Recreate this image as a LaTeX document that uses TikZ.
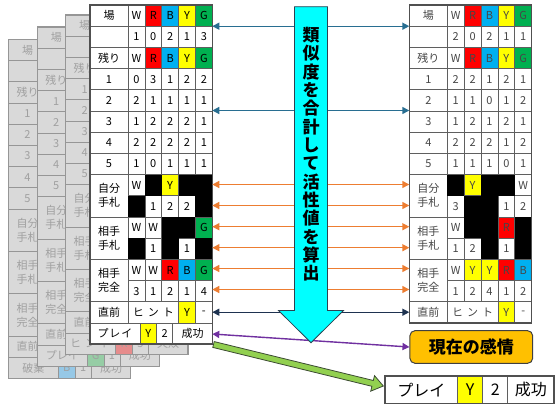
\documentclass[tikz,border=0pt]{standalone}
\usepackage{fontspec}
\setmainfont{Noto Sans CJK JP}
\usetikzlibrary{arrows.meta,calc}

\definecolor{cR}{RGB}{255,0,0}
\definecolor{cB}{RGB}{0,176,240}
\definecolor{cY}{RGB}{255,255,0}
\definecolor{cG}{RGB}{0,176,80}
\definecolor{gridc}{RGB}{95,95,95}
\definecolor{framec}{RGB}{80,80,80}
\definecolor{rtext}{RGB}{70,70,70}
\definecolor{bgfill}{RGB}{217,217,217}
\definecolor{bgline}{RGB}{150,150,150}
\definecolor{bgtext}{RGB}{160,160,160}
\definecolor{lR}{RGB}{230,140,140}
\definecolor{lB}{RGB}{150,200,230}
\definecolor{lG}{RGB}{150,205,165}
\definecolor{arrBlue}{RGB}{40,110,145}
\definecolor{arrOrange}{RGB}{237,125,49}
\definecolor{arrNavy}{RGB}{30,50,80}
\definecolor{arrPurple}{RGB}{112,48,160}
\definecolor{cyanf}{RGB}{0,255,255}
\definecolor{cyand}{RGB}{45,65,80}
\definecolor{lgreen}{RGB}{146,208,80}
\definecolor{lgreend}{RGB}{60,75,50}
\definecolor{emof}{RGB}{255,192,0}

\def\rh{21.2}
\def\cw{16.86}
\def\lw{38}
\def\tcol{black}
\def\gcol{gridc}
\def\dfill{white}
\newif\ifblackpass
\def\codeX{X}
\def\cfR{cR}\def\cfB{cB}\def\cfY{cY}\def\cfG{cG}

\tikzset{
  cell/.style={draw=\gcol, line width=0.7pt, text=\tcol, anchor=north west,
    minimum width=\cw pt, minimum height=\rh pt, inner sep=0pt, outer sep=0pt,
    font=\fontsize{11}{14}\selectfont, align=center},
  tframe/.style={draw=framec, line width=1.5pt},
  gframe/.style={draw=bgline, line width=1.2pt},
  link/.style={line width=1.4pt, {Triangle[length=7pt,width=7pt]}-{Triangle[length=7pt,width=7pt]}},
  bcell/.style={cell, minimum height=27.3pt, font=\fontsize{16}{18}\selectfont, fill=white},
  emobox/.style={rounded corners=5pt, fill=emof, draw=black!75, line width=1pt,
    minimum width=122.7pt, minimum height=32.6pt, inner sep=0pt,
    font=\fontsize{17}{20}\selectfont\bfseries},
}

\newcommand\drawcell[5]{%
  \pgfmathsetmacro\cx{#2+(#4-1)*\cw}%
  \pgfmathsetmacro\cy{\ytop+#3*\rh}%
  \edef\code{#5}%
  \ifx\code\codeX
    \ifblackpass\fill[black] (\cx,\cy) rectangle ++(\cw,\rh);\fi
  \else
    \ifblackpass\else
      \ifcsname cf\code\endcsname\edef\thefill{\csname cf\code\endcsname}\else\edef\thefill{\dfill}\fi
      \node[cell, fill=\thefill] (#1-#3-#4) at (\cx,\cy) {\code};
    \fi
  \fi}
\newcommand\vrow[4]{\foreach \cc [count=\ii] in {#4}{\drawcell{#1}{#2}{#3}{\ii}{\cc}}}

\newcommand\labcell[6]{%
  \pgfmathsetmacro\cy{\ytop+#3*\rh}%
  \pgfmathsetmacro\hh{#4*\rh}%
  \node[cell, fill=\dfill, minimum width=#5 pt, minimum height=\hh pt] (#1) at (#2,\cy) {#6};}

\newcommand\labelcol[2]{%
  \labcell{#1-l0}{#2}{0}{1}{\lw}{場}%
  \labcell{#1-l1}{#2}{1}{1}{\lw}{}%
  \labcell{#1-l2}{#2}{2}{1}{\lw}{残り}%
  \labcell{#1-l3}{#2}{3}{1}{\lw}{1}%
  \labcell{#1-l4}{#2}{4}{1}{\lw}{2}%
  \labcell{#1-l5}{#2}{5}{1}{\lw}{3}%
  \labcell{#1-l6}{#2}{6}{1}{\lw}{4}%
  \labcell{#1-l7}{#2}{7}{1}{\lw}{5}%
  \labcell{#1-l8}{#2}{8}{2}{\lw}{自分\\手札}%
  \labcell{#1-l10}{#2}{10}{2}{\lw}{相手\\手札}%
  \labcell{#1-l12}{#2}{12}{2}{\lw}{相手\\完全}%
  \labcell{#1-l14}{#2}{14}{1}{\lw}{直前}}

\newcommand\actrow[7]{%
  \labcell{#1-a1}{#2}{15}{1}{50}{#3}%
  \node[cell, fill=#4, minimum width=16.7pt] (#1-a2) at (#2+50,\ytop+15*\rh) {#5};
  \node[cell, fill=\dfill, minimum width=16pt] (#1-a3) at (#2+66.7,\ytop+15*\rh) {#6};
  \node[cell, fill=\dfill, minimum width=39.6pt] (#1-a4) at (#2+82.7,\ytop+15*\rh) {#7};}

\newcommand\hintrow[2]{%
  \labcell{#1-h1}{#2}{14}{1}{50.58}{ヒ\hspace{4pt}ン\hspace{4pt}ト}%
  \node[cell, fill=cY] (#1-h2) at (#2+50.58,\ytop+14*\rh) {Y};
  \node[cell, fill=\dfill] (#1-h3) at (#2+67.44,\ytop+14*\rh) {-};}

\newcommand\graytable[8]{%
  \begingroup
  \def\ytop{#3}\def\tcol{bgtext}\def\gcol{bgline}\def\dfill{bgfill}%
  \fill[bgfill] (#2,#3) rectangle ++(122.3,16*\rh);
  \labelcol{#1}{#2}%
  \actrow{#1}{#2}{#4}{#5}{#6}{#7}{#8}%
  \draw[gframe] (#2,#3) rectangle ++(122.3,16*\rh);
  \endgroup}

\begin{document}
\begin{tikzpicture}[x=1pt,y=-1pt]
\useasboundingbox (0,0) rectangle (560,405);
\fill[white] (0,0) rectangle (560,405);

% stacked gray tables (past states)
\graytable{A}{8.5}{39.3}{破棄}{lB}{B}{1}{成功}
\graytable{B}{37.3}{27}{プレイ}{lG}{G}{1}{成功}
\graytable{C}{65.7}{15}{ヒ\hspace{4pt}ン\hspace{4pt}ト}{lR}{R}{5}{失敗}

% main left table
\begingroup
\def\ytop{5}
\fill[white] (90,5) rectangle ++(122.3,16*\rh);
\labelcol{L}{90}
\vrow{L}{128}{0}{W,R,B,Y,G}
\vrow{L}{128}{1}{1,0,2,1,3}
\vrow{L}{128}{2}{W,R,B,Y,G}
\vrow{L}{128}{3}{0,3,1,2,2}
\vrow{L}{128}{4}{2,1,1,1,1}
\vrow{L}{128}{5}{1,2,2,2,1}
\vrow{L}{128}{6}{2,2,2,2,1}
\vrow{L}{128}{7}{1,0,1,1,1}
\vrow{L}{128}{8}{W,X,Y,X,X}
\vrow{L}{128}{9}{X,1,2,2,X}
\vrow{L}{128}{10}{W,W,X,X,G}
\vrow{L}{128}{11}{X,1,X,1,X}
\vrow{L}{128}{12}{W,W,R,B,G}
\vrow{L}{128}{13}{3,1,2,1,4}
\hintrow{L}{128}
\actrow{L}{90}{プ\hspace{1pt}レ\hspace{1pt}イ}{cY}{Y}{2}{成功}
\blackpasstrue
\vrow{L}{128}{8}{W,X,Y,X,X}
\vrow{L}{128}{9}{X,1,2,2,X}
\vrow{L}{128}{10}{W,W,X,X,G}
\vrow{L}{128}{11}{X,1,X,1,X}
\blackpassfalse
\draw[tframe] (90,5) rectangle ++(122.3,16*\rh);
\endgroup

% right table (current state)
\begingroup
\def\ytop{5}\def\tcol{rtext}
\fill[white] (409.3,5) rectangle ++(122.3,15*\rh);
\labelcol{R}{409.3}
\vrow{R}{447.3}{0}{W,R,B,Y,G}
\vrow{R}{447.3}{1}{2,0,2,1,1}
\vrow{R}{447.3}{2}{W,R,B,Y,G}
\vrow{R}{447.3}{3}{2,2,1,2,1}
\vrow{R}{447.3}{4}{1,1,0,1,2}
\vrow{R}{447.3}{5}{1,2,1,2,1}
\vrow{R}{447.3}{6}{2,2,2,1,2}
\vrow{R}{447.3}{7}{1,1,1,0,1}
\vrow{R}{447.3}{8}{X,Y,X,X,W}
\vrow{R}{447.3}{9}{3,X,X,1,2}
\vrow{R}{447.3}{10}{W,X,X,R,X}
\vrow{R}{447.3}{11}{1,2,X,1,X}
\vrow{R}{447.3}{12}{W,Y,Y,R,B}
\vrow{R}{447.3}{13}{1,2,4,1,2}
\hintrow{R}{447.3}
\blackpasstrue
\vrow{R}{447.3}{8}{X,Y,X,X,W}
\vrow{R}{447.3}{9}{3,X,X,1,2}
\vrow{R}{447.3}{10}{W,X,X,R,X}
\vrow{R}{447.3}{11}{1,2,X,1,X}
\blackpassfalse
\draw[tframe] (409.3,5) rectangle ++(122.3,15*\rh);
\endgroup

% emotion box and chosen action
\node[emobox] (emo) at (471.3,347) {現在の感情};
\node[bcell, minimum width=72.7pt] (P1) at (385,376) {プレイ};
\node[bcell, minimum width=25pt, fill=cY] (P2) at (457.7,376) {Y};
\node[bcell, minimum width=25pt] (P3) at (482.7,376) {2};
\node[bcell, minimum width=46.3pt] (P4) at (507.7,376) {成功};
\draw[tframe] (P1.north west) rectangle (P4.south east);

% comparison links
\foreach \nm/\yy in {b1/26.2, b2/110.5, o1/184.5, o2/205.5, o3/226.7, o4/247.7, o5/268.5, o6/289.5, n1/312.2}{
  \coordinate (L\nm) at (212.3,\yy);
  \coordinate (R\nm) at (409.3,\yy);
}
\draw[link, arrBlue] (Lb1) -- (Rb1);
\draw[link, arrBlue] (Lb2) -- (Rb2);
\foreach \nm in {o1,o2,o3,o4,o5,o6}{\draw[link, arrOrange] (L\nm) -- (R\nm);}
\draw[link, arrNavy] (Ln1) -- (Rn1);
\coordinate (Lp) at (212.3,334);
\draw[link, arrPurple] (Lp) -- (emo.west);

% green block arrow
\coordinate (g1) at (213.5,344.5);
\coordinate (g2) at (383.3,386);
\coordinate (gh) at ($(g2)!11pt!(g1)$);
\filldraw[fill=lgreen, draw=lgreend, line width=0.8pt, line join=miter]
  ($(g1)!3pt!90:(g2)$) -- ($(gh)!3pt!-90:(g1)$) -- ($(gh)!8pt!-90:(g1)$) -- (g2)
  -- ($(gh)!8pt!90:(g1)$) -- ($(gh)!3pt!90:(g1)$) -- ($(g1)!3pt!-90:(g2)$) -- cycle;

% big cyan arrow
\filldraw[fill=cyanf, draw=cyand, line width=0.8pt, line join=miter]
  (294.5,6.7) -- (327.5,6.7) -- (327.5,310.5) -- (343.5,310.5) -- (311,342.7)
  -- (278.5,310.5) -- (294.5,310.5) -- cycle;
\node[font=\fontsize{17}{18.33}\selectfont\bfseries, align=center, inner sep=0pt] (sum) at (311,154.2)
  {類\\似\\度\\を\\合\\計\\し\\て\\活\\性\\値\\を\\算\\出};
\end{tikzpicture}
\end{document}
